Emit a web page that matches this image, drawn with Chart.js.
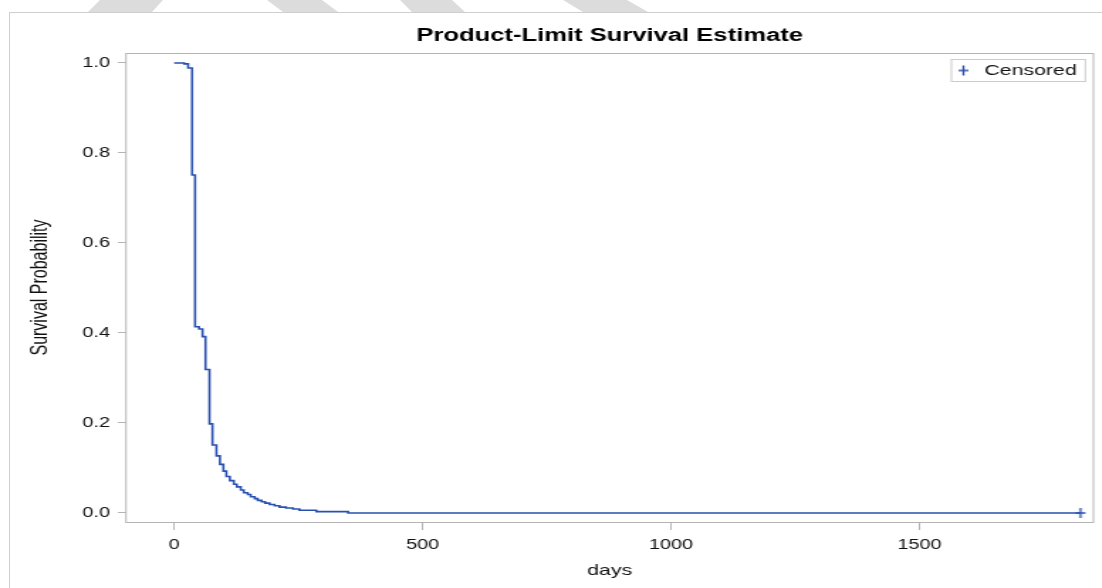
<!DOCTYPE html>
<html>
<head>
<meta charset="utf-8">
<script src="https://cdn.jsdelivr.net/npm/chart.js@4.4.1/dist/chart.umd.min.js"></script>
<style>
html,body{margin:0;padding:0;background:#fff;width:1102px;height:588px;overflow:hidden;position:relative}
.frame{position:absolute;left:9px;top:12px;width:1100px;height:600px;border-left:1px solid #cfcfcf;border-top:1px solid #cfcfcf}
.mark{position:absolute;left:0;top:0;width:1102px;height:12px;background:#dcdcdc}
#wrap{position:absolute;left:0;top:0;width:776px;height:588px;transform:scaleX(1.42);transform-origin:0 0}
</style>
</head>
<body>
<div class="mark" style="clip-path:polygon(100px 0,163px 0,152px 12px,88px 12px)"></div>
<div class="mark" style="clip-path:polygon(267px 0,322px 0,338px 12px,283px 12px)"></div>
<div class="mark" style="clip-path:polygon(400px 0,452px 0,465px 12px,412px 12px)"></div>
<div class="mark" style="clip-path:polygon(563px 0,627px 0,648px 12px,583px 12px)"></div>
<div class="frame"></div>
<div id="wrap"><canvas id="km"></canvas></div>
<script>
'use strict';
// ══ Product-Limit (Kaplan-Meier) estimate ══
const days=[0,20,28,36,42,50,57,63,71,77,85,92,99,105,112,120,126,134,140,148,154,162,168,176,183,192,202,212,225,239,252,286,350,1824];
const surv=[1.0,0.998,0.989,0.751,0.414,0.409,0.392,0.319,0.198,0.151,0.127,0.108,0.093,0.081,0.072,0.064,0.058,0.051,0.045,0.041,0.036,0.032,0.028,0.025,0.022,0.019,0.016,0.013,0.011,0.009,0.006,0.003,0.0,0.0];
const censDays=[1824];
const censSurv=[0.0];
const xTicks=[0,500,1000,1500];
const yTicks=[0,0.2,0.4,0.6,0.8,1.0];

// the source picture is stretched sideways, so the canvas is squeezed by SX and scaled back in css
const SX=1.42;
const ink='#2850b0',axisGrey='#b4b4b4',txt='#111';
Chart.defaults.font.family='"Liberation Sans", Arial, sans-serif';

// "+" marker, narrower than tall once stretched
const plus=document.createElement('canvas');
plus.width=9;plus.height=12;
(()=>{const g=plus.getContext('2d');g.strokeStyle=ink;g.lineWidth=1.4;
  g.beginPath();g.moveTo(1,6);g.lineTo(8,6);g.moveTo(4.5,1);g.lineTo(4.5,11);g.stroke();})();

const plotFrame={
  id:'plotFrame',
  afterDraw(c){
    const {ctx,chartArea:a}=c;
    ctx.save();ctx.strokeStyle=axisGrey;ctx.lineWidth=1;
    ctx.strokeRect(a.left,a.top+0.5,a.right-a.left,a.bottom-a.top);
    // legend box, top right inside the plot
    const w=134/SX,h=22,x=a.right-8/SX-w,y=a.top+6;
    ctx.strokeStyle='#cbcbcb';ctx.strokeRect(x,y+0.5,w,h);
    ctx.drawImage(plus,x+12/SX-4.5,y+h/2-5.5);
    ctx.fillStyle=txt;ctx.font='15px "Liberation Sans", Arial, sans-serif';ctx.textBaseline='middle';
    ctx.fillText('Censored',x+33/SX,y+h/2+1);
    ctx.restore();
  }
};

new Chart(document.getElementById('km'),{
  type:'scatter',
  data:{datasets:[
    {label:'Survival',data:days.map((d,i)=>({x:d,y:surv[i]})),showLine:true,stepped:'before',
     borderColor:ink,borderWidth:1.6,pointRadius:0,fill:false},
    {label:'Censored',data:censDays.map((d,i)=>({x:d,y:censSurv[i]})),showLine:false,
     pointStyle:plus,pointRadius:5}
  ]},
  options:{
    responsive:true,maintainAspectRatio:false,animation:false,events:[],
    layout:{padding:{left:0,right:1102/SX-1096/SX,top:0,bottom:0}},
    plugins:{
      legend:{display:false},tooltip:{enabled:false},
      title:{display:true,fullSize:false,text:'Product-Limit Survival Estimate',color:'#000',
        font:{size:18,weight:'bold'},padding:{top:25,bottom:6.4}}
    },
    scales:{
      x:{type:'linear',min:-97,max:1850,
        afterBuildTicks:s=>{s.ticks=xTicks.map(v=>({value:v}))},
        afterFit:s=>{s.height=66},
        grid:{drawOnChartArea:false,tickLength:8,color:axisGrey},
        border:{display:false},
        ticks:{padding:7,color:txt,font:{size:14},maxRotation:0,callback:v=>String(v)},
        title:{display:true,text:'days',color:txt,font:{size:15},padding:{top:0,bottom:8}}
      },
      y:{type:'linear',min:-0.02,max:1.0222,
        afterBuildTicks:s=>{s.ticks=yTicks.map(v=>({value:v}))},
        afterFit:s=>{s.width=126/SX},
        grid:{drawOnChartArea:false,tickLength:8/SX,color:axisGrey},
        border:{display:false},
        ticks:{padding:5.6,color:txt,font:{size:14},callback:v=>v.toFixed(1)},
        title:{display:true,text:'Survival Probability',color:txt,font:{size:16},padding:{top:18.6,bottom:0}}
      }
    }
  },
  plugins:[plotFrame]
});
</script>
</body>
</html>
